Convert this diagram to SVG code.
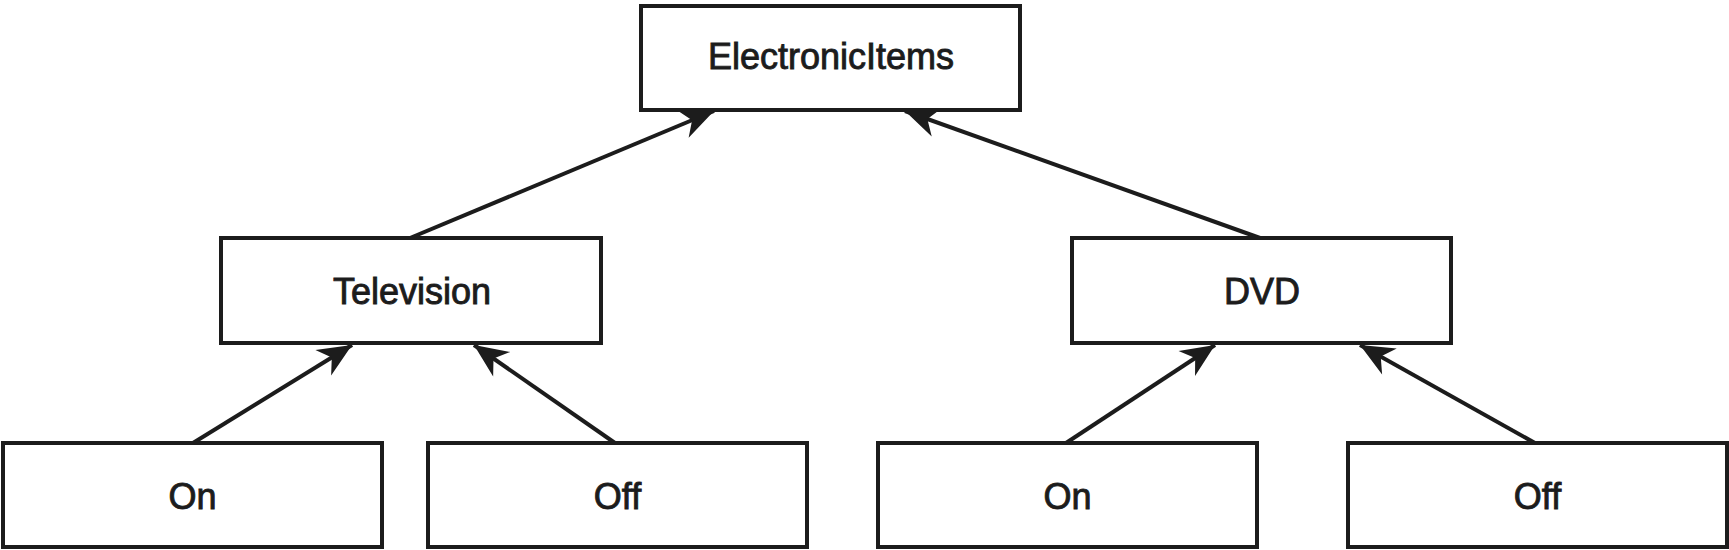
<svg xmlns="http://www.w3.org/2000/svg" width="1729" height="550" viewBox="0 0 1729 550">
<style>
.box{fill:#fff;stroke:#1c1c1c;stroke-width:4}
.lbl{font-family:"Liberation Sans",Arial,sans-serif;font-size:36px;fill:#1c1c1c;stroke:#1c1c1c;stroke-width:0.9;text-anchor:middle}
.con{stroke:#1c1c1c;stroke-width:4;fill:none;marker-end:url(#arr)}
</style>
<defs>
<marker id="arr" markerUnits="userSpaceOnUse" markerWidth="40" markerHeight="40" viewBox="-30 -15 32 30" refX="0" refY="0" orient="auto">
<path d="M0,0 L-27,-12 L-19,0 L-27,12 Z" fill="#1c1c1c"/>
</marker>
</defs>
<rect width="1729" height="550" fill="#fff"/>
<g id="connectors">
<line class="con" x1="410" y1="238" x2="714" y2="111"/>
<line class="con" x1="1260" y1="238" x2="905" y2="111"/>
<line class="con" x1="193" y1="443" x2="352" y2="345"/>
<line class="con" x1="615" y1="443" x2="474" y2="345"/>
<line class="con" x1="1066" y1="443" x2="1215" y2="345"/>
<line class="con" x1="1535" y1="443" x2="1360" y2="345"/>
</g>
<g id="electronicitems"><rect class="box" x="641" y="6" width="379" height="104"/><text class="lbl" x="831" y="69">ElectronicItems</text></g>
<g id="television"><rect class="box" x="221" y="238" width="380" height="105"/><text class="lbl" x="412" y="304">Television</text></g>
<g id="dvd"><rect class="box" x="1072" y="238" width="379" height="105"/><text class="lbl" x="1262" y="304">DVD</text></g>
<g id="tv-on"><rect class="box" x="3" y="443" width="379" height="104"/><text class="lbl" x="192.5" y="509">On</text></g>
<g id="tv-off"><rect class="box" x="428" y="443" width="379" height="104"/><text class="lbl" x="617.5" y="509">Off</text></g>
<g id="dvd-on"><rect class="box" x="878" y="443" width="379" height="104"/><text class="lbl" x="1067.5" y="509">On</text></g>
<g id="dvd-off"><rect class="box" x="1348" y="443" width="379" height="104"/><text class="lbl" x="1537.5" y="509">Off</text></g>
</svg>
